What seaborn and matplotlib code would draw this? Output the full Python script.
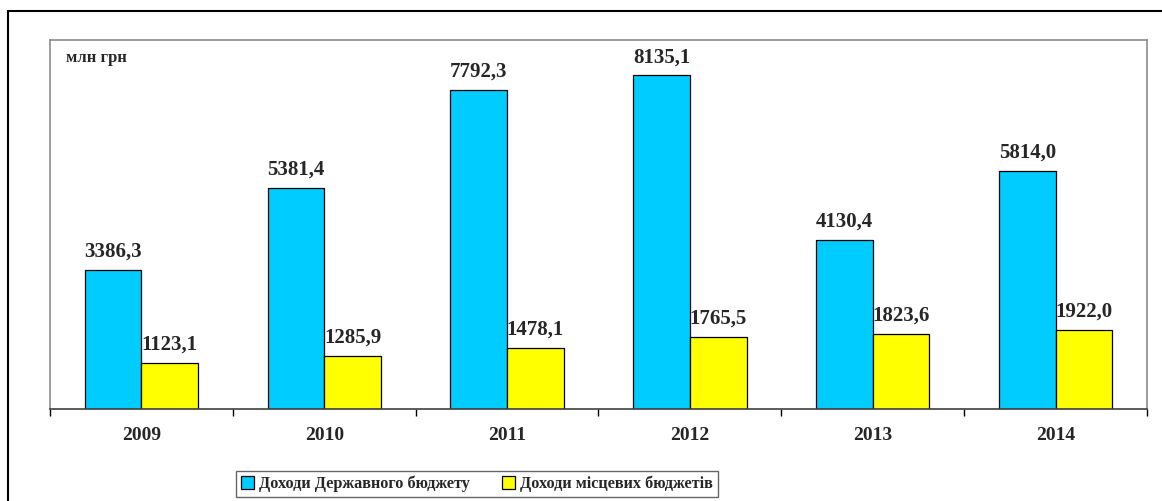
import pandas as pd
import numpy as np
import matplotlib.pyplot as plt
import seaborn as sns
from matplotlib.patches import Rectangle

# data
years = ["2009", "2010", "2011", "2012", "2013", "2014"]
state_budget = [3386.3, 5381.4, 7792.3, 8135.1, 4130.4, 5814.0]
local_budgets = [1123.1, 1285.9, 1478.1, 1765.5, 1823.6, 1922.0]
series_names = ["Доходи Державного бюджету", "Доходи місцевих бюджетів"]
colors = ["#00CCFF", "#FFFF00"]

df = pd.DataFrame({
    "year": years * 2,
    "value": state_budget + local_budgets,
    "series": [series_names[0]] * len(years) + [series_names[1]] * len(years),
})

sns.set_style("white")
plt.rcParams['font.family'] = ['Liberation Serif', 'DejaVu Serif']
plt.rcParams['font.weight'] = 'bold'

fig = plt.figure(figsize=(11.62, 5.01), dpi=100)
W, H = 1162, 501
ax = fig.add_axes([50 / W, 1 - 409 / H, (1147 - 50) / W, (409 - 40) / H])

sns.barplot(data=df, x="year", y="value", hue="series", palette=colors,
            width=0.62, edgecolor="black", linewidth=0.9, saturation=1,
            ax=ax, legend=True)

ax.set_ylim(0, 9000)
ax.set_xlim(-0.5, len(years) - 0.5)
ax.set_yticks([])
ax.set_xlabel("")
ax.set_ylabel("")

# ticks between categories
ax.set_xticks(np.arange(-0.5, len(years), 1.0))
ax.set_xticklabels([])
ax.tick_params(axis="x", direction="out", length=5, width=1, color="black", bottom=True)
for i, y in enumerate(years):
    ax.text(i, -0.05, y, transform=ax.get_xaxis_transform(), ha="center", va="top",
            fontsize=14, fontweight="bold")

for s in ["top", "right", "left"]:
    ax.spines[s].set_color("#8c8c8c")
    ax.spines[s].set_linewidth(1.2)
ax.spines["bottom"].set_color("#404040")
ax.spines["bottom"].set_linewidth(1.2)

# value labels
for cont in ax.containers:
    labels = [f"{v:.1f}".replace(".", ",") for v in cont.datavalues]
    ax.bar_label(cont, labels=labels, padding=6, fontsize=15, fontweight="bold")

ax.text(0.015, 0.95, "млн грн", transform=ax.transAxes, ha="left", va="center",
        fontsize=12, fontweight="bold")

handles, labs = ax.get_legend_handles_labels()
ax.legend_.remove()
leg = fig.legend(handles, labs, loc="center", bbox_to_anchor=(477 / W, 1 - 484 / H),
                 ncol=2, frameon=True, fancybox=False, edgecolor="#404040",
                 handlelength=0.8, handleheight=0.8, handletextpad=0.3,
                 columnspacing=2.0, borderpad=0.3, prop={"weight": "bold", "size": 11.7})
leg.get_frame().set_linewidth(1.0)

# outer chart border
fig.patches.append(Rectangle((8 / W, -0.1), 1.2, 1 - 11 / H + 0.1, transform=fig.transFigure,
                             fill=False, edgecolor="black", linewidth=1.5))

fig.savefig("out.png", dpi=100)
